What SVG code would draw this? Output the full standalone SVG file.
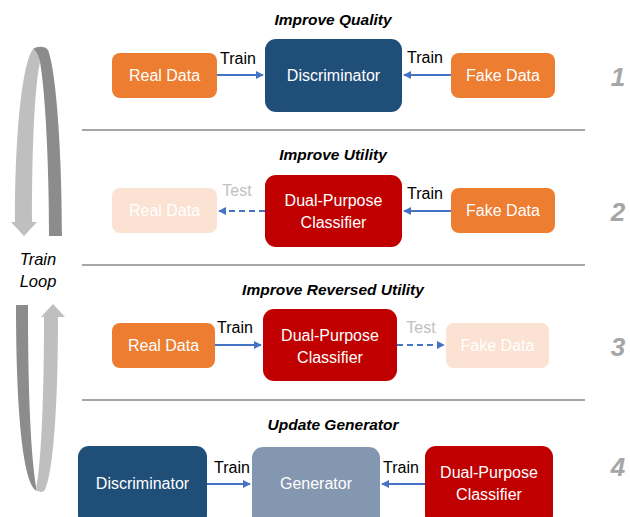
<svg xmlns="http://www.w3.org/2000/svg" width="630" height="517" viewBox="0 0 630 517">
<defs>
<marker id="ah" viewBox="0 0 10 10" refX="9" refY="5" markerWidth="4" markerHeight="4" orient="auto-start-reverse" markerUnits="strokeWidth">
<path d="M0,0 L10,5 L0,10 Z" fill="#4472C4"/>
</marker>
<style>
text{font-family:"Liberation Sans",Arial,sans-serif}
.title{font-size:15.5px;font-weight:bold;font-style:italic;fill:#000;text-anchor:middle}
.lbl{font-size:16px;fill:#fff;text-anchor:middle}
.elbl{font-size:16px;fill:#000;text-anchor:middle}
.test{font-size:16px;fill:#BFBFBF;text-anchor:middle}
.num{font-size:26px;font-weight:bold;font-style:italic;fill:#A6A6A6;text-anchor:middle}
.loop{font-size:16.5px;font-style:italic;fill:#000;text-anchor:middle}
.orange{fill:#ED7D31}
.faded{fill:#FBE2D2}
.navy{fill:#1F4E79}
.red{fill:#C00000}
.gen{fill:#8497B0}
.sep{stroke:#A6A6A6;stroke-width:2}
.arr{stroke:#4472C4;stroke-width:2;fill:none;marker-end:url(#ah)}
.dash{stroke-dasharray:6,4}
</style>
</defs>
<rect width="630" height="517" fill="#fff"/>

<!-- loop arrows -->
<g id="loop">
<path d="M33,49 C38,46 45,46 48,50 C56,70 62,150 62,236 L49,236 C49,160 45,90 40,62 C38,55 36,51 33,49 Z" fill="#8C8C8C"/>
<path d="M33,49 C24,60 15,120 15,222 L32,222 C32,140 35,85 40,62 C38,55 36,51 33,49 Z" fill="#BFBFBF"/>
<polygon points="11,222 37,222 24,236" fill="#BFBFBF"/>
<path d="M16,305 L28,305 C28,410 32,465 37,491 C24,486 16,420 16,305 Z" fill="#8C8C8C"/>
<path d="M44,317 L58,317 C58,420 52,475 45,490 C42,493 39,492 36,490 C40,470 44,420 44,317 Z" fill="#BFBFBF"/>
<polygon points="41,317 65,317 53,304" fill="#BFBFBF"/>
<text class="loop" x="38" y="265">Train</text>
<text class="loop" x="38" y="287">Loop</text>
</g>

<!-- separators -->
<g id="separators">
<line class="sep" x1="82" y1="130" x2="585" y2="130"/>
<line class="sep" x1="82" y1="265" x2="585" y2="265"/>
<line class="sep" x1="82" y1="400" x2="585" y2="400"/>
</g>

<!-- titles and numbers -->
<text class="title" x="333" y="25">Improve Quality</text>
<text class="title" x="333" y="160">Improve Utility</text>
<text class="title" x="333" y="295">Improve Reversed Utility</text>
<text class="title" x="333" y="430">Update Generator</text>
<text class="num" x="618" y="86">1</text>
<text class="num" x="618" y="221">2</text>
<text class="num" x="618" y="356">3</text>
<text class="num" x="618" y="476">4</text>

<!-- panel 1 -->
<g id="p1-real"><rect class="orange" x="112" y="53" width="105" height="45" rx="8"/><text class="lbl" x="164.5" y="81">Real Data</text></g>
<g id="p1-disc"><rect class="navy" x="265" y="39" width="137" height="73" rx="11"/><text class="lbl" x="333.5" y="81">Discriminator</text></g>
<g id="p1-fake"><rect class="orange" x="451" y="53" width="104" height="45" rx="8"/><text class="lbl" x="503" y="81">Fake Data</text></g>

<!-- panel 2 -->
<g id="p2-real"><rect class="faded" x="112" y="188" width="105" height="45" rx="8"/><text class="lbl" x="164.5" y="216">Real Data</text></g>
<g id="p2-dpc"><rect class="red" x="265" y="175" width="137" height="72" rx="11"/><text class="lbl" x="333.5" y="206">Dual-Purpose</text><text class="lbl" x="333.5" y="228">Classifier</text></g>
<g id="p2-fake"><rect class="orange" x="451" y="188" width="104" height="45" rx="8"/><text class="lbl" x="503" y="216">Fake Data</text></g>

<!-- panel 3 -->
<g id="p3-real"><rect class="orange" x="112" y="323" width="103" height="45" rx="8"/><text class="lbl" x="163.5" y="351">Real Data</text></g>
<g id="p3-dpc"><rect class="red" x="263" y="309" width="134" height="72" rx="11"/><text class="lbl" x="330" y="341">Dual-Purpose</text><text class="lbl" x="330" y="363">Classifier</text></g>
<g id="p3-fake"><rect class="faded" x="446" y="323" width="103" height="45" rx="8"/><text class="lbl" x="497.5" y="351">Fake Data</text></g>

<!-- panel 4 -->
<g id="p4-disc"><rect class="navy" x="78" y="446" width="129" height="80" rx="11"/><text class="lbl" x="142.5" y="489">Discriminator</text></g>
<g id="p4-gen"><rect class="gen" x="252" y="447" width="128" height="80" rx="11"/><text class="lbl" x="316" y="489">Generator</text></g>
<g id="p4-dpc"><rect class="red" x="425" y="446" width="128" height="80" rx="11"/><text class="lbl" x="489" y="478">Dual-Purpose</text><text class="lbl" x="489" y="500">Classifier</text></g>

<!-- connectors -->
<g id="connectors">
<line class="arr" x1="217" y1="75" x2="263" y2="75"/>
<line class="arr" x1="451" y1="75" x2="404" y2="75"/>
<line class="arr dash" x1="265" y1="211" x2="219" y2="211"/>
<line class="arr" x1="451" y1="211" x2="404" y2="211"/>
<line class="arr" x1="215" y1="345" x2="261" y2="345"/>
<line class="arr dash" x1="397" y1="345" x2="444" y2="345"/>
<line class="arr" x1="207" y1="484" x2="250" y2="484"/>
<line class="arr" x1="425" y1="484" x2="382" y2="484"/>
<text class="elbl" x="238" y="64">Train</text>
<text class="elbl" x="425" y="63">Train</text>
<text class="test" x="237" y="196">Test</text>
<text class="elbl" x="425" y="199">Train</text>
<text class="elbl" x="235" y="333">Train</text>
<text class="test" x="421" y="333">Test</text>
<text class="elbl" x="232" y="473">Train</text>
<text class="elbl" x="401" y="473">Train</text>
</g>
</svg>
